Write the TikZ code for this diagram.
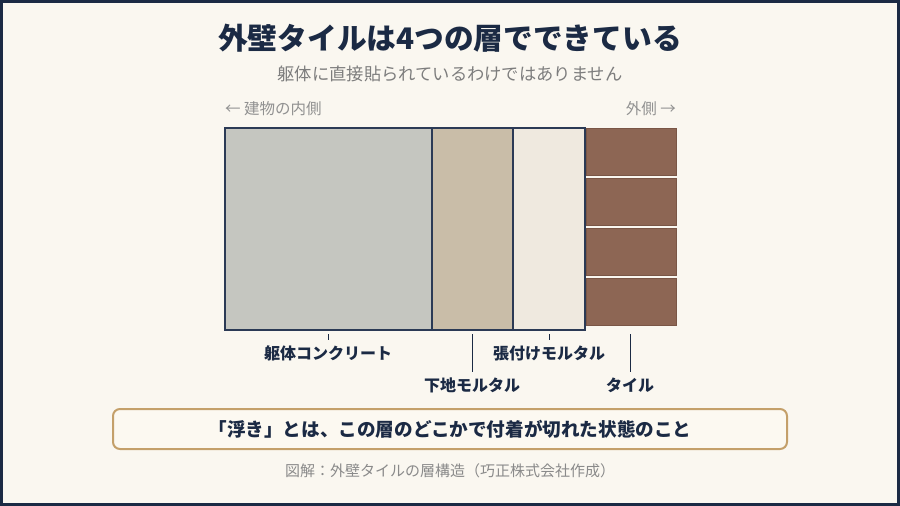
\documentclass[tikz,border=0pt]{standalone}
\usepackage{fontspec}
\setmainfont{Noto Sans CJK JP}
\definecolor{navy}{HTML}{1B2A44}
\definecolor{paper}{HTML}{FAF7F0}
\definecolor{edge}{HTML}{2B3A55}
\definecolor{concrete}{HTML}{C5C6C0}
\definecolor{basemortar}{HTML}{C9BDA8}
\definecolor{adhesive}{HTML}{EFE9DF}
\definecolor{brick}{HTML}{8D6654}
\definecolor{brickedge}{HTML}{7A5646}
\definecolor{softgray}{HTML}{7D7D7D}
\definecolor{gold}{HTML}{C4A06A}
\definecolor{notefill}{HTML}{FCF9F1}
\tikzset{
  layer/.style={draw=edge, line width=1.5pt},
  tile/.style={fill=brick, draw=brickedge, line width=0.6pt},
  lbl/.style={font=\fontsize{16}{18}\selectfont\bfseries, text=navy, inner sep=0pt},
  tick/.style={draw=navy, line width=1pt},
  side/.style={font=\fontsize{15.5}{17}\selectfont, text=softgray!85, inner sep=0pt},
}

\begin{document}
\begin{tikzpicture}[x=1pt,y=-1pt]
\useasboundingbox (0,0) rectangle (900,506);
\fill[paper] (0,0) rectangle (900,506);
\draw[navy, line width=6pt] (0,0) rectangle (900,506);
% headings
\node[font=\fontsize{29.7}{33}\selectfont\bfseries, text=navy] (title) at (450,38) {外壁タイルは4つの層でできている};
\node[font=\fontsize{17.3}{20}\selectfont, text=softgray] (subtitle) at (450,74) {躯体に直接貼られているわけではありません};
\node[side, anchor=west] (inner) at (225,109) {← 建物の内側};
\node[side, anchor=east] (outer) at (676,109) {外側 →};
% layers
\draw[layer, fill=concrete] (225,128) rectangle (432,330);
\draw[layer, fill=basemortar] (432,128) rectangle (513,330);
\draw[layer, fill=adhesive] (513,128) rectangle (585,330);
\foreach \i in {0,...,3}
  \draw[tile] (586,128+\i*50) rectangle ++(90,47.5);
% labels
\node[lbl] (kutai) at (328,353) {躯体コンクリート};
\node[lbl] (shita) at (472,385) {下地モルタル};
\node[lbl] (hari) at (549,353) {張付けモルタル};
\node[lbl] (tairu) at (630,385) {タイル};
\coordinate (t1) at (328,334);
\coordinate (t2) at (472,334);
\coordinate (t3) at (549,334);
\coordinate (t4) at (630,334);
\draw[tick] (t1) -- ([yshift=5pt]kutai.north);
\draw[tick] (t2) -- ([yshift=5pt]shita.north);
\draw[tick] (t3) -- ([yshift=5pt]hari.north);
\draw[tick] (t4) -- ([yshift=5pt]tairu.north);
% note
\node[draw=gold, line width=2pt, rounded corners=7pt, fill=notefill, minimum width=674pt, minimum height=40pt,
  font=\fontsize{18.6}{21}\selectfont\bfseries, text=navy] (note) at (450,429) {「浮き」とは、この層のどこかで付着が切れた状態のこと};
\node[font=\fontsize{15}{17}\selectfont, text=softgray!90] (caption) at (450,471) {図解：外壁タイルの層構造（巧正株式会社作成）};
\end{tikzpicture}
\end{document}
